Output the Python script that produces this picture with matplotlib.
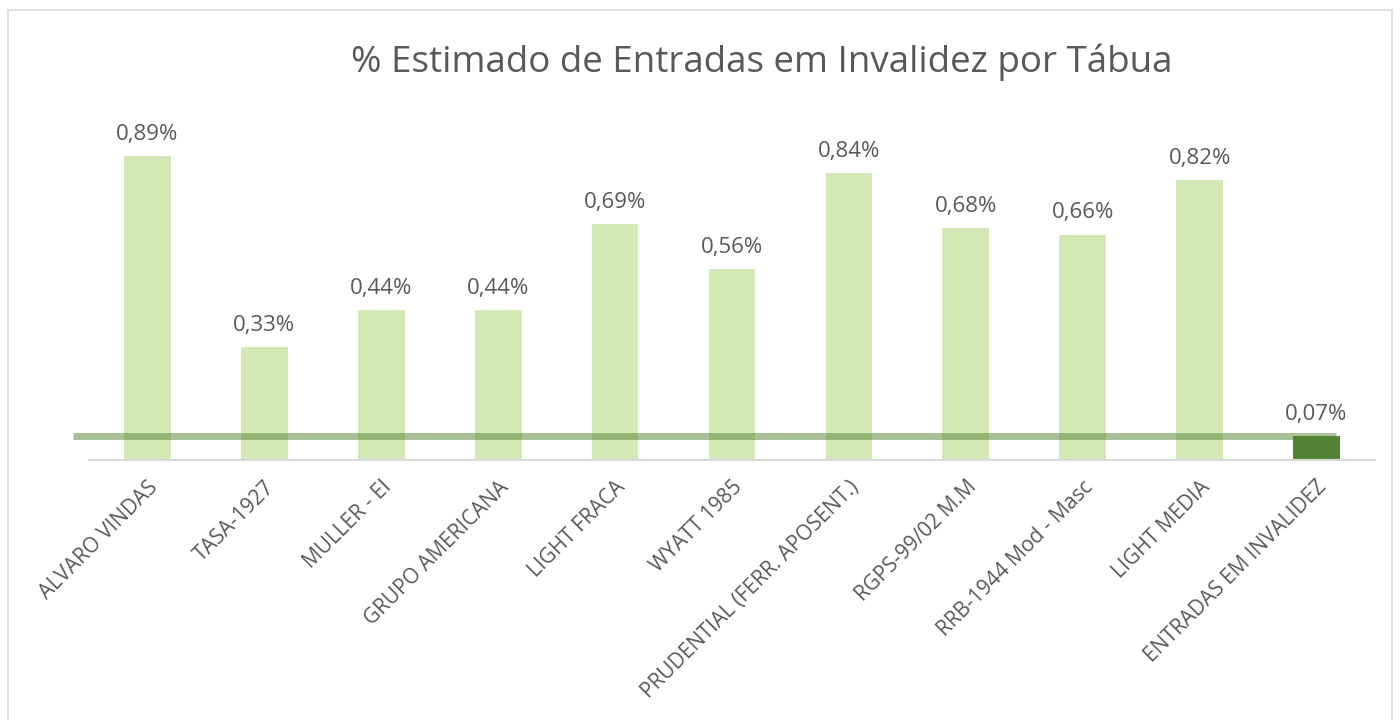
import numpy as np
import matplotlib.pyplot as plt
from matplotlib.patches import Rectangle

# dados do grafico
tabuas = ['ALVARO VINDAS', 'TASA-1927', 'MULLER - EI', 'GRUPO AMERICANA', 'LIGHT FRACA',
          'WYATT 1985', 'PRUDENTIAL (FERR. APOSENT.)', 'RGPS-99/02 M.M', 'RRB-1944 Mod - Masc',
          'LIGHT MEDIA', 'ENTRADAS EM INVALIDEZ']
valores = [0.89, 0.33, 0.44, 0.44, 0.69, 0.56, 0.84, 0.68, 0.66, 0.82, 0.07]
rotulos = ['0,89%', '0,33%', '0,44%', '0,44%', '0,69%', '0,56%', '0,84%', '0,68%', '0,66%',
           '0,82%', '0,07%']
referencia = 0.07

plt.rcParams['font.family'] = ['Open Sans', 'DejaVu Sans']
txt_cor = '#595959'

fig = plt.figure(figsize=(14, 7.2), dpi=100)
ax = fig.add_axes([89 / 1400, 1 - 460 / 720, (1375 - 89) / 1400, 341.6 / 720])

x = np.arange(len(tabuas))
cores = ['#d3e9b5'] * (len(tabuas) - 1) + ['#548235']
ax.bar(x, valores, width=0.4, color=cores, zorder=2)

for xi, v, r in zip(x, valores, rotulos):
    ax.annotate(r, (xi, v), xytext=(0, 8), textcoords='offset points', ha='center', va='bottom',
                fontsize=16, color=txt_cor)

# linha de referencia (entradas em invalidez)
ax.plot([-0.64, 10.17], [referencia, referencia], color='#548235', alpha=0.5, lw=5,
        solid_capstyle='butt', clip_on=False, zorder=3)

ax.set_xlim(-0.5, 10.5)
ax.set_ylim(0, 1.0)
ax.set_yticks([])
ax.set_xticks(x)
ax.set_xticklabels(tabuas, rotation=45, ha='right', rotation_mode='anchor', fontsize=15,
                   color=txt_cor)
ax.tick_params(axis='x', length=0, pad=12)
for s in ['top', 'right', 'left']:
    ax.spines[s].set_visible(False)
ax.spines['bottom'].set_color('#d9d9d9')
ax.spines['bottom'].set_linewidth(1.5)

fig.text(762 / 1400, 1 - 62 / 720, '% Estimado de Entradas em Invalidez por Tábua', ha='center',
         va='center', fontsize=26.5, color=txt_cor)

fig.patches.append(Rectangle((8 / 1400, -0.01), 1384 / 1400, 1 - 10 / 720 + 0.01,
                             transform=fig.transFigure, fill=False, edgecolor='#d9d9d9', lw=1.2))

fig.savefig('out.png', dpi=100)
